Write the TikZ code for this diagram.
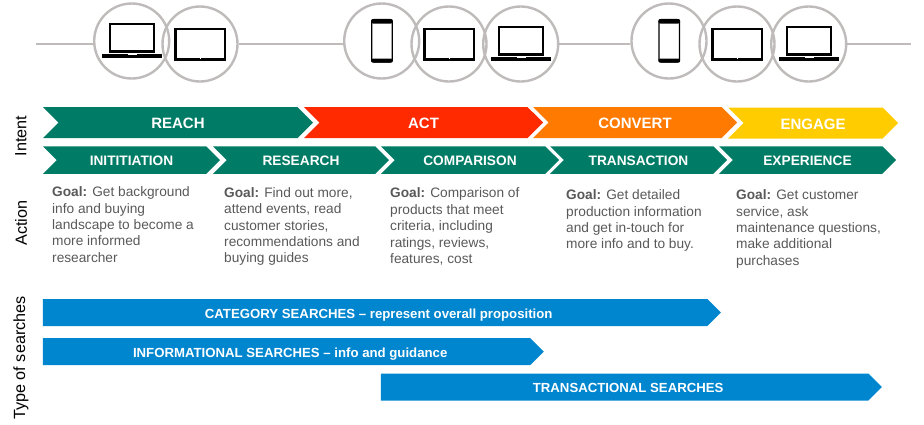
\documentclass[tikz,border=0pt]{standalone}
\usepackage{fontspec}
\setmainfont{Liberation Sans}
\usetikzlibrary{shapes.symbols, positioning}
\definecolor{teal1}{HTML}{007C66}
\definecolor{red1}{HTML}{FF2A00}
\definecolor{orange1}{HTML}{FF7A00}
\definecolor{yellow1}{HTML}{FFCC00}
\definecolor{blue1}{HTML}{0085CF}
\definecolor{ring1}{HTML}{BFBBBB}
\definecolor{goaltext}{HTML}{595959}
\tikzset{
	chevron/.style={signal, signal from=west, signal to=east, signal pointer angle=90,
		inner sep=0pt, outer sep=0pt, text=white, align=center},
	intent/.style={chevron, minimum height=31pt, text height=12.4pt, text depth=0pt,
		font=\fontsize{15}{18}\selectfont\bfseries},
	phase/.style={chevron, fill=teal1, minimum height=27.5pt, text height=11pt, text depth=0pt,
		font=\fontsize{13.7}{16}\selectfont\bfseries},
	searchbar/.style={signal, signal from=nowhere, signal to=east, signal pointer angle=90,
		inner sep=0pt, outer sep=0pt, fill=blue1, text=white, minimum height=27pt,
		text height=11.5pt, text depth=0pt, font=\fontsize{13.2}{15}\selectfont\bfseries},
	goalbox/.style={inner sep=0pt, text=goaltext, align=left,
		font=\fontsize{13.7}{16.4}\selectfont},
	sidelabel/.style={rotate=90, inner sep=0pt, text=black, font=\fontsize{16.2}{18}\selectfont},
	ring/.style={circle, draw=ring1, line width=2.4pt, minimum size=75pt, inner sep=0pt},
	wire/.style={draw=ring1, line width=1.5pt},
	laptop/.pic={
		\draw[black, line width=2.2pt] (-21.5,-17) rectangle (22.5,10.5);
		\fill[black] (-30,13) rectangle (30.5,16.5);
		\fill[white] (-4,13) rectangle (5,14.3);
	},
	tablet/.pic={
		\draw[black, line width=2.8pt] (-24.5,-15) rectangle (25,15.5);
		\fill[white] (-0.2,13.8) rectangle (1.2,15.2);
	},
	phone/.pic={
		\draw[black, line width=1.4pt, rounded corners=2.5pt] (-10,-21.5) rectangle (10.5,21);
		\fill[black, rounded corners=2pt] (-10.7,-22) rectangle (11.2,-17.5);
		\fill[black, rounded corners=2pt] (-10.7,17.5) rectangle (11.2,21.7);
	}
}
\begin{document}
\begin{tikzpicture}[x=1pt, y=-1pt]
	\useasboundingbox (0,0) rectangle (924,424);

	%% ---- Device circles ----
	\node[ring] (c1) at (131.7,41) {};
	\node[ring] (c2) at (200,44)   {};
	\node[ring] (c3) at (381.7,41) {};
	\node[ring] (c4) at (449,44)   {};
	\node[ring] (c5) at (520.7,44) {};
	\node[ring] (c6) at (669,41)   {};
	\node[ring] (c7) at (737,44)   {};
	\node[ring] (c8) at (808.7,44) {};

	%% ---- Line through the circles ----
	\coordinate (wirestart) at (36,44);
	\coordinate (wireend) at (911,44);
	\draw[wire] (wirestart) -- (wirestart -| c1.west);
	\foreach \a/\b in {c2/c3,c5/c6}{
		\draw[wire] (\a.east) -- (\a.east -| \b.west);
	}
	\draw[wire] (c8.east) -- (wireend);

	%% ---- Device icons ----
	\pic at (c1) {laptop};
	\pic at (c2) {tablet};
	\pic at (c3) {phone};
	\pic at (c4) {tablet};
	\pic at (c5) {laptop};
	\pic at (c6) {phone};
	\pic at (c7) {tablet};
	\pic at (c8) {laptop};

	%% ---- Intent row ----
	\node[intent, fill=teal1, minimum width=270pt]    (reach) at (178,122.5) {REACH};
	\node[intent, fill=red1, minimum width=239pt]     (act) at (423.5,122.5) {ACT};
	\node[intent, fill=orange1, minimum width=204pt]  (convert) at (635,122.5) {CONVERT};
	\node[intent, fill=yellow1, minimum width=170pt]  (engage) at (813,123) {ENGAGE};

	%% ---- Phase row ----
	\node[phase, minimum width=177pt] (init) at (131.5,160) {INITITIATION};
	\node[phase, minimum width=176pt] (research) at (301,160) {RESEARCH};
	\node[phase, minimum width=178pt] (compare) at (470,160) {COMPARISON};
	\node[phase, minimum width=177pt] (transact) at (638.5,160) {TRANSACTION};
	\node[phase, minimum width=177pt] (experience) at (807.5,160) {EXPERIENCE};

	%% ---- Goal texts ----
	\node[goalbox, anchor=north west] (goal1) at (52,186.5)
		{\textbf{Goal:} Get background\\info and buying\\landscape to become a\\more informed\\researcher};
	\node[goalbox, below right=0.7pt and 172pt of goal1.north west] (goal2)
		{\textbf{Goal:} Find out more,\\attend events, read\\customer stories,\\recommendations and\\buying guides};
	\node[goalbox, below right=1.3pt and 338pt of goal1.north west] (goal3)
		{\textbf{Goal:} Comparison of\\products that meet\\criteria, including\\ratings, reviews,\\features, cost};
	\node[goalbox, below right=3pt and 514pt of goal1.north west] (goal4)
		{\textbf{Goal:} Get detailed\\production information\\and get in-touch for\\more info and to buy.};
	\node[goalbox, below right=3pt and 684pt of goal1.north west] (goal5)
		{\textbf{Goal:} Get customer\\service, ask\\maintenance questions,\\make additional\\purchases};

	%% ---- Search bars ----
	\node[searchbar, minimum width=678pt] (catbar) at (375,312.5) {\hspace*{7.4pt}CATEGORY SEARCHES -- represent overall proposition};
	\node[searchbar, minimum width=501pt] (infobar) at (286.5,351.5) {\hspace*{7.4pt}INFORMATIONAL SEARCHES -- info and guidance};
	\node[searchbar, minimum width=501pt] (transbar) at (624.5,387) {\hspace*{7.4pt}TRANSACTIONAL SEARCHES};

	%% ---- Side labels ----
	\node[sidelabel] (intentlabel) at (21,136) {Intent};
	\node[sidelabel] (actionlabel) at (21,223) {Action};
	\node[sidelabel] (typelabel) at (21,358) {Type of searches};
\end{tikzpicture}
\end{document}
